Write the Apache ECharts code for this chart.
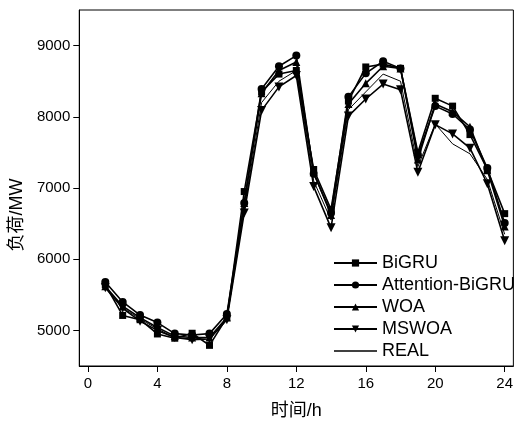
<!DOCTYPE html>
<html><head><meta charset="utf-8">
<script src="https://cdn.jsdelivr.net/npm/echarts@6/dist/echarts.min.js"></script>
<style>html,body{margin:0;padding:0;background:#fff}#c{width:516px;height:425px}</style>
</head><body><div id="c"></div>
<script>
var hours = [1,2,3,4,5,6,7,8,9,10,11,12,13,14,15,16,17,18,19,20,21,22,23,24];
var bigru = [5640,5210,5150,4950,4890,4960,4790,5180,6950,8350,8600,8650,7260,6700,8220,8700,8740,8680,7500,8260,8150,7750,7260,6640];
var attention = [5680,5400,5215,5110,4955,4935,4955,5230,6790,8390,8710,8860,7200,6650,8280,8610,8780,8680,7460,8150,8040,7820,7280,6510];
var woa = [5620,5340,5180,5040,4920,4900,4900,5180,6790,8330,8650,8770,7220,6620,8180,8470,8710,8680,7400,8180,8070,7860,7250,6460];
var mswoa = [5600,5310,5130,5000,4900,4870,4880,5150,6650,8090,8420,8580,7020,6440,8010,8250,8460,8380,7220,7890,7760,7560,7060,6260];
var real = [5600,5320,5160,5020,4900,4880,4900,5160,6700,8200,8500,8650,7100,6550,8100,8350,8600,8500,7300,7900,7620,7480,7120,6350];
var xTicks = [0,4,8,12,16,20,24];
var yTicks = [5000,6000,7000,8000,9000];
var legendNames = ['BiGRU','Attention-BiGRU','WOA','MSWOA','REAL'];

function pairs(v){ return hours.map(function(h,i){ return [h, v[i]]; }); }
function mk(name, data, symbol, size, width){
  return {name:name, type:'line', data:pairs(data), symbol:symbol, symbolSize:size,
    showSymbol: symbol !== 'none',
    lineStyle:{color:'#000', width:width}, itemStyle:{color:'#000'}, animation:false};
}
var chart = echarts.init(document.getElementById('c'));
var font = '"Liberation Sans", Arial, sans-serif';
var cjk = '"Liberation Sans", "Noto Sans CJK SC", sans-serif';
var legendData = legendNames.map(function(n){
  return n === 'REAL' ? {name:n, icon:'path://M0,0 L44,0 L44,1.4 L0,1.4 Z'} : {name:n};
});
chart.setOption({
  animation:false,
  grid:{left:78, top:10, width:440, height:357, show:true, borderColor:'#000', borderWidth:1},
  xAxis:{type:'value', min:-0.5, max:24.5, name:'时间/h', nameLocation:'middle', nameGap:36,
    nameTextStyle:{fontFamily:cjk, fontSize:18, color:'#000'},
    splitLine:{show:false},
    axisLine:{onZero:false, lineStyle:{color:'#000', width:1}},
    axisTick:{customValues:xTicks, length:6, lineStyle:{color:'#000'}},
    axisLabel:{customValues:xTicks, fontFamily:font, fontSize:15, color:'#000', margin:10,
      formatter:function(v){return String(v);}}},
  yAxis:{type:'value', min:4500, max:9500, name:'负荷/MW', nameLocation:'middle', nameGap:51,
    nameTextStyle:{fontFamily:cjk, fontSize:18, color:'#000', padding:[0,54,0,0]},
    splitLine:{show:false},
    axisLine:{show:true, onZero:false, lineStyle:{color:'#000', width:1}},
    axisTick:{show:true, customValues:yTicks, length:6, lineStyle:{color:'#000'}},
    axisLabel:{customValues:yTicks, fontFamily:font, fontSize:15, color:'#000', margin:9,
      formatter:function(v){return String(v);}}},
  legend:{orient:'vertical', left:328, top:249, itemWidth:43, itemHeight:9, itemGap:4,
    textStyle:{fontFamily:font, fontSize:18, color:'#000'},
    data:legendData},
  series:[
    mk('BiGRU', bigru, 'rect', 7, 1.6),
    mk('Attention-BiGRU', attention, 'circle', 8, 1.6),
    mk('WOA', woa, 'triangle', 8, 1.6),
    mk('MSWOA', mswoa, 'path://M0,0 L10,0 L5,9 Z', 9, 1.6),
    mk('REAL', real, 'none', 0, 1)
  ]
});
</script></body></html>
